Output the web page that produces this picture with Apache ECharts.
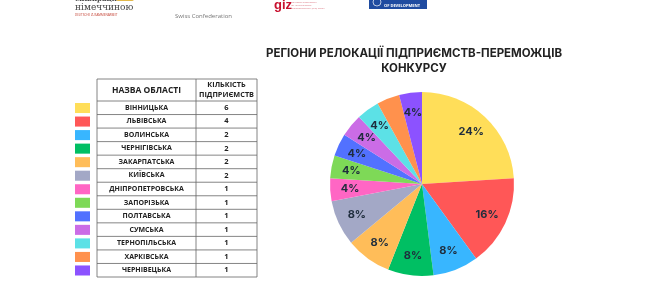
<!DOCTYPE html>
<html><head><meta charset="utf-8">
<script src="https://cdn.jsdelivr.net/npm/echarts@6/dist/echarts.min.js"></script>
<style>html,body{margin:0;padding:0;background:#fff}#c{width:650px;height:290px}</style>
</head><body><div id="c"></div>
<script>
const regions = ['ВІННИЦЬКА','ЛЬВІВСЬКА','ВОЛИНСЬКА','ЧЕРНІГІВСЬКА','ЗАКАРПАТСЬКА','КИЇВСЬКА','ДНІПРОПЕТРОВСЬКА','ЗАПОРІЗЬКА','ПОЛТАВСЬКА','СУМСЬКА','ТЕРНОПІЛЬСЬКА','ХАРКІВСЬКА','ЧЕРНІВЕЦЬКА'];
const counts = [6,4,2,2,2,2,1,1,1,1,1,1,1];
const colors = ['#FFDE59','#FF5757','#38B6FF','#00BF63','#FFBD59','#A3A8C6','#FF66C4','#7ED957','#5271FF','#CB6CE6','#5CE1E6','#FF914D','#8C52FF'];
const titleText = 'РЕГІОНИ РЕЛОКАЦІЇ ПІДПРИЄМСТВ-ПЕРЕМОЖЦІВ\nКОНКУРСУ';
const headerName = 'НАЗВА ОБЛАСТІ';
const headerCount = 'КІЛЬКІСТЬ\nПІДПРИЄМСТВ';

const chart = echarts.init(document.getElementById('c'), null, {renderer:'canvas'});
const data = regions.map((n,i)=>({name:n, value:counts[i], itemStyle:{color:colors[i]}}));
const total = counts.reduce((a,b)=>a+b,0);

// table layout
const tX0 = 97, tX1 = 196, tX2 = 257, tY0 = 79, tYH = 101, rowH = (277-101)/regions.length;
const g = [];
const lineStyle = {stroke:'#666', lineWidth:0.8};
g.push({type:'rect', shape:{x:tX0,y:tY0,width:tX2-tX0,height:277-tY0}, style:{fill:'none', stroke:'#666', lineWidth:0.8}});
g.push({type:'line', shape:{x1:tX1,y1:tY0,x2:tX1,y2:277}, style:lineStyle});
g.push({type:'line', shape:{x1:tX0,y1:tYH,x2:tX2,y2:tYH}, style:lineStyle});
g.push({type:'text', x:(tX0+tX1)/2, y:(tY0+tYH)/2+0.5, style:{text:headerName, fill:'#222', font:'bold 8.5px "Open Sans"', align:'center', verticalAlign:'middle'}});
g.push({type:'text', x:(tX1+tX2)/2, y:(tY0+tYH)/2, style:{text:headerCount, fill:'#222', font:'bold 7.3px "Open Sans"', align:'center', verticalAlign:'middle', lineHeight:9.5}});
regions.forEach((n,i)=>{
  const y = tYH + i*rowH;
  if (i>0) g.push({type:'line', shape:{x1:tX0,y1:y,x2:tX2,y2:y}, style:lineStyle});
  g.push({type:'text', x:(tX0+tX1)/2, y:y+rowH/2, style:{text:n, fill:'#222', font:'bold 7px "Open Sans"', align:'center', verticalAlign:'middle'}});
  g.push({type:'text', x:(tX1+tX2)/2, y:y+rowH/2, style:{text:String(counts[i]), fill:'#222', font:'bold 7.5px "Open Sans"', align:'center', verticalAlign:'middle'}});
  g.push({type:'rect', shape:{x:75,y:y+2,width:15,height:rowH-3.5}, style:{fill:colors[i]}});
});
// partial logos at top
g.push({type:'text', x:75, y:-4, style:{text:'співпраця з', fill:'#444', font:'bold 7px "DejaVu Serif"'}});
g.push({type:'rect', shape:{x:116,y:-3,width:18,height:4, r:3}, style:{fill:'#E2B84A'}});
g.push({type:'text', x:75, y:3, style:{text:'німеччиною', fill:'#444', font:'9px "DejaVu Serif"'}});
g.push({type:'text', x:75, y:14, style:{text:'DEUTSCHE ZUSAMMENARBEIT', fill:'#c0392b', font:'3px "Open Sans"'}});
g.push({type:'text', x:175, y:-5, style:{text:'Confederation suisse', fill:'#777', font:'6px "Open Sans"'}});
g.push({type:'text', x:175, y:13, style:{text:'Swiss Confederation', fill:'#777', font:'6px "Open Sans"'}});
g.push({type:'text', x:274, y:-1, style:{text:'giz', fill:'#C8102E', font:'bold 13px "Liberation Sans"'}});
g.push({type:'text', x:291, y:1, style:{text:'Deutsche Gesellschaft\nfür Internationale\nZusammenarbeit (GIZ) GmbH', fill:'#d9737f', font:'2.5px "Open Sans"', lineHeight:3}});
g.push({type:'rect', shape:{x:369,y:-2,width:58,height:11}, style:{fill:'#1F4BA0'}});
g.push({type:'circle', shape:{cx:377,cy:2,r:4}, style:{fill:'none', stroke:'#fff', lineWidth:0.7}});
g.push({type:'text', x:384, y:4, style:{text:'OF DEVELOPMENT', fill:'#fff', font:'bold 4px "Open Sans"'}});

chart.setOption({
  animation:false,
  title:{text:titleText, left:409, top:41, textAlign:'center', textStyle:{fontFamily:'Inter', fontWeight:'bold', fontSize:11.5, color:'#222', lineHeight:15}},
  series:[
    {type:'pie', center:[422,184], radius:[0,92], startAngle:90, clockwise:true, label:{show:false}, labelLine:{show:false}, data:data, silent:true},
    {type:'pie', center:[422,184], radius:[46,92], startAngle:90, clockwise:true,
      itemStyle:{color:'rgba(0,0,0,0)'},
      label:{show:true, position:'inside', formatter:p=>Math.round(p.value/total*100)+'%', color:'#1f2d3d', fontFamily:'Inter', fontWeight:'bold', fontSize:11},
      labelLine:{show:false}, data:counts.map((v,i)=>({name:regions[i], value:v})), silent:true}
  ],
  graphic:g
});
</script></body></html>
